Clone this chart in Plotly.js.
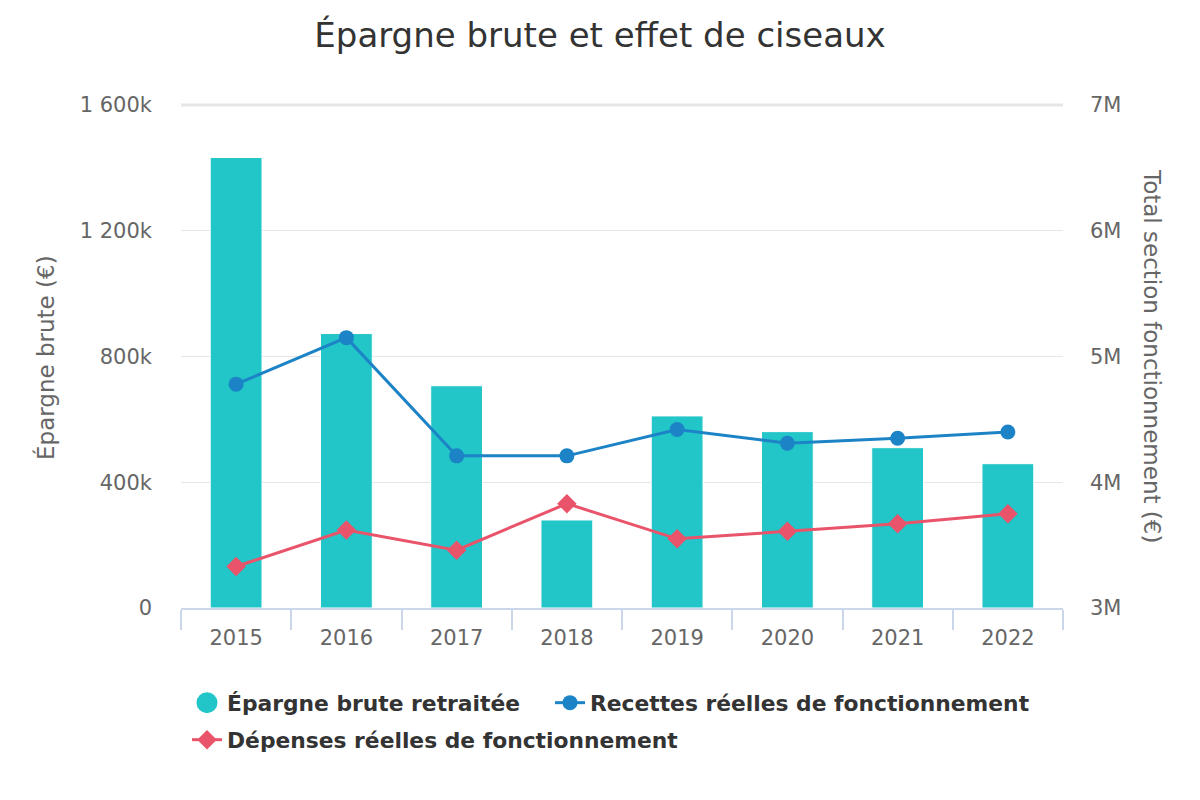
<!DOCTYPE html>
<html>
<head>
<meta charset="utf-8">
<script src="https://cdn.plot.ly/plotly-3.0.1.min.js"></script>
<style>html,body{margin:0;padding:0;background:#fff;}#chart{width:1200px;height:800px;}</style>
</head>
<body>
<div id="chart"></div>
<script>
const years = ["2015","2016","2017","2018","2019","2020","2021","2022"];
const epargneBrute = [1433000, 873000, 707000, 280000, 611000, 561000, 510000, 459000];
const recettes = [4780000, 5150000, 4210000, 4210000, 4420000, 4310000, 4350000, 4400000];
const depenses = [3330000, 3620000, 3460000, 3830000, 3550000, 3610000, 3670000, 3750000];
const leftTickVals = [0, 400000, 800000, 1200000, 1600000];
const leftTickText = ["0", "400k", "800k", "1 200k", "1 600k"];
const rightTickVals = [3000000, 4000000, 5000000, 6000000, 7000000];
const rightTickText = ["3M", "4M", "5M", "6M", "7M"];

const teal = "#22c5c8", blue = "#1c84c6", red = "#e9546b";
const fam = "'DejaVu Sans', Verdana, sans-serif";
const legFont = {size: 21.8, color: "#333333", family: fam, weight: "bold"};

const traces = [
  {type: "bar", x: years, y: epargneBrute, name: "Épargne brute retraitée", yaxis: "y",
   marker: {color: teal, line: {color: "#ffffff", width: 1}}, showlegend: false},
  {type: "scatter", mode: "markers", x: [null], y: [null], name: "Épargne brute retraitée",
   marker: {color: teal, size: 16, symbol: "circle", line: {color: teal, width: 5}},
   yaxis: "y", hoverinfo: "skip", legend: "legend"},
  {type: "scatter", mode: "lines+markers", x: years, y: recettes, name: "Recettes réelles de fonctionnement",
   yaxis: "y2", line: {color: blue, width: 3}, marker: {color: blue, size: 15, symbol: "circle"},
   legend: "legend2"},
  {type: "scatter", mode: "lines+markers", x: years, y: depenses, name: "Dépenses réelles de fonctionnement",
   yaxis: "y2", line: {color: red, width: 3}, marker: {color: red, size: 15, symbol: "diamond"},
   legend: "legend3"}
];

const px = v => (v - 181) / 882;
const py = v => (608 - v) / 503;

const layout = {
  width: 1200, height: 800,
  margin: {l: 181, r: 137, t: 105, b: 192},
  paper_bgcolor: "#ffffff", plot_bgcolor: "#ffffff",
  font: {family: fam, color: "#666666"},
  title: {text: "Épargne brute et effet de ciseaux", x: 0.5, xanchor: "center",
          y: 1 - 35/800, yanchor: "middle", yref: "container",
          font: {size: 34, color: "#333333", family: fam}},
  bargap: 0.53,
  xaxis: {type: "category", showgrid: false, showline: true, linecolor: "#ccd6eb", linewidth: 2,
          ticks: "outside", tickson: "boundaries", ticklen: 20, tickcolor: "#ccd6eb", tickwidth: 2,
          tickfont: {size: 21, color: "#666666", family: fam}, ticklabelstandoff: 10,
          zeroline: false},
  yaxis: {range: [0, 1600000], tickvals: leftTickVals, ticktext: leftTickText, showgrid: true,
          gridcolor: "#e6e6e6", gridwidth: 1, zeroline: false, showline: false, ticks: "",
          tickfont: {size: 21, color: "#666666"}, ticklabelstandoff: 28},
  yaxis2: {range: [3000000, 7000000], tickvals: rightTickVals, ticktext: rightTickText, overlaying: "y",
           side: "right", showgrid: false, zeroline: false, showline: false, ticks: "",
           tickfont: {size: 21, color: "#666666"}, ticklabelstandoff: 26},
  legend: {orientation: "h", x: px(187), xanchor: "left", y: py(703), yanchor: "middle",
           font: legFont, bgcolor: "rgba(0,0,0,0)"},
  legend2: {orientation: "h", x: px(550), xanchor: "left", y: py(703), yanchor: "middle",
           font: legFont, bgcolor: "rgba(0,0,0,0)"},
  legend3: {orientation: "h", x: px(187), xanchor: "left", y: py(740), yanchor: "middle",
           font: legFont, bgcolor: "rgba(0,0,0,0)"},
  shapes: [{type: "line", xref: "paper", yref: "paper", x0: 0, x1: 1, y0: 1, y1: 1,
            line: {color: "#e6e6e6", width: 3}, layer: "below"}],
  annotations: [
    {text: "Épargne brute (€)", xref: "paper", yref: "paper", x: px(45), y: py(358), showarrow: false,
     textangle: -90, xanchor: "center", yanchor: "middle", font: {size: 23, color: "#666666"}},
    {text: "Total section fonctionnement (€)", xref: "paper", yref: "paper", x: px(1152), y: py(356), showarrow: false,
     textangle: 90, xanchor: "center", yanchor: "middle", font: {size: 23, color: "#666666"}}
  ]
};

Plotly.newPlot("chart", traces, layout, {displayModeBar: false, responsive: false});
</script>
</body>
</html>
